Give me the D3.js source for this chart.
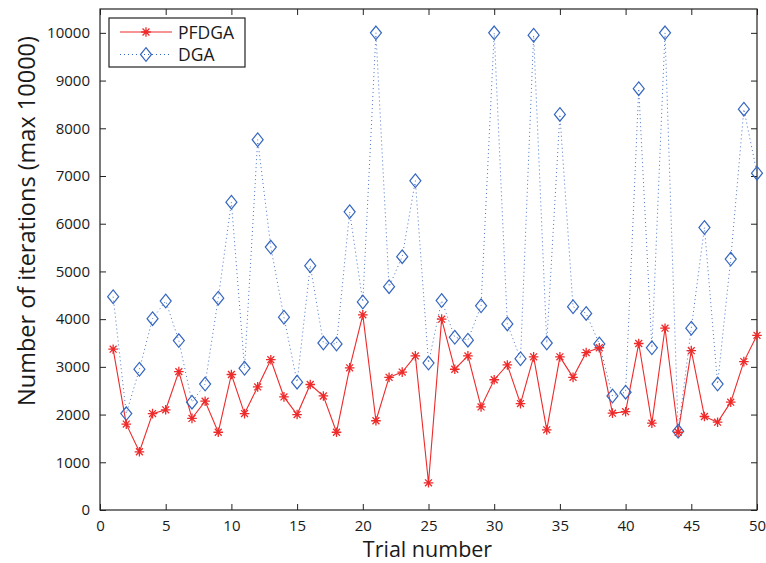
<!DOCTYPE html>
<html>
<head>
<meta charset="utf-8">
<script src="https://cdn.jsdelivr.net/npm/d3@7"></script>
<style>
html,body{margin:0;padding:0;background:#fff;}
svg{display:block;}
text{font-family:"Open Sans",sans-serif;fill:#1a1a1a;}
</style>
</head>
<body>
<svg id="chart" width="766" height="563"></svg>
<script>
const trials = d3.range(1, 51);
const pfdga = [3370,1800,1220,2020,2100,2900,1920,2280,1630,2840,
               2020,2580,3150,2370,2000,2630,2390,1630,2980,4090,
               1870,2780,2890,3230,570,4000,2950,3230,2160,2730,
               3040,2230,3210,1680,3210,2780,3300,3400,2030,2060,
               3490,1820,3810,1630,3340,1960,1840,2260,3110,3660];
const dga = [4470,2020,2950,4010,4380,3550,2260,2640,4440,6450,
             2970,7760,5510,4040,2680,5120,3500,3480,6250,4360,
             10000,4680,5310,6900,3080,4390,3620,3560,4280,10000,
             3900,3170,9950,3500,8290,4260,4120,3480,2390,2470,
             8830,3400,10000,1650,3810,5920,2640,5260,8400,7060];
const xTicks = d3.range(0, 51, 5);
const yTicks = d3.range(0, 10001, 1000);
const seriesNames = ["PFDGA", "DGA"];

const red = "#ee2a2a", blue = "#3566c0";
const svg = d3.select("#chart");
const L = 100, R = 757, T = 9, B = 510;
const x = d3.scaleLinear().domain([0, 50]).range([L, R]);
const y = d3.scaleLinear().domain([0, 10500]).range([B, T]);

// frame
svg.append("rect").attr("x", L).attr("y", T).attr("width", R - L).attr("height", B - T)
  .attr("fill", "none").attr("stroke", "#222").attr("stroke-width", 1.2);

const tl = 6;
const gx = svg.append("g").attr("transform", `translate(0,${B})`)
  .call(d3.axisBottom(x).tickValues(xTicks).tickSize(-tl).tickPadding(10).tickFormat(d3.format("d")));
const gxt = svg.append("g").attr("transform", `translate(0,${T})`)
  .call(d3.axisTop(x).tickValues(xTicks).tickSize(-tl).tickFormat(""));
const gy = svg.append("g").attr("transform", `translate(${L},0)`)
  .call(d3.axisLeft(y).tickValues(yTicks).tickSize(-tl).tickPadding(10).tickFormat(d3.format("d")));
const gyr = svg.append("g").attr("transform", `translate(${R},0)`)
  .call(d3.axisRight(y).tickValues(yTicks).tickSize(-tl).tickFormat(""));
[gx, gxt, gy, gyr].forEach(g => {
  g.select(".domain").remove();
  g.selectAll(".tick line").attr("stroke", "#222");
  g.selectAll("text").attr("font-size", 15).attr("font-family", "Open Sans").attr("fill", "#1a1a1a");
});

// labels
svg.append("text").attr("x", (L + R) / 2 - 1).attr("y", 557).attr("text-anchor", "middle")
  .attr("font-size", 21.5).text("Trial number");
svg.append("text").attr("transform", `translate(35,221) rotate(-90)`)
  .attr("text-anchor", "middle").attr("font-size", 23.5).text("Number of iterations (max 10000)");

// lines
const linePath = d3.line().x((d, i) => x(trials[i])).y(d => y(d));
svg.append("path").datum(dga).attr("d", linePath).attr("fill", "none")
  .attr("stroke", blue).attr("stroke-width", 1).attr("stroke-dasharray", "1,3").attr("opacity", 0.9);
svg.append("path").datum(pfdga).attr("d", linePath).attr("fill", "none")
  .attr("stroke", red).attr("stroke-width", 1.1);

function star(g, cx, cy, r) {
  const d = r * 0.72;
  g.append("path").attr("d",
    `M${cx - r},${cy}L${cx + r},${cy}M${cx},${cy - r}L${cx},${cy + r}` +
    `M${cx - d},${cy - d}L${cx + d},${cy + d}M${cx - d},${cy + d}L${cx + d},${cy - d}`)
    .attr("stroke", red).attr("stroke-width", 1.3).attr("fill", "none");
}
function diamond(g, cx, cy) {
  const w = 5.5, h = 6.8;
  g.append("path").attr("d", `M${cx},${cy - h}L${cx + w},${cy}L${cx},${cy + h}L${cx - w},${cy}Z`)
    .attr("stroke", blue).attr("stroke-width", 1.2).attr("fill", "none");
}
const gd = svg.append("g");
dga.forEach((v, i) => diamond(gd, x(trials[i]), y(v)));
const gs = svg.append("g");
pfdga.forEach((v, i) => star(gs, x(trials[i]), y(v), 4.8));

// legend
const lg = svg.append("g");
lg.append("rect").attr("x", 109).attr("y", 18).attr("width", 136).attr("height", 49)
  .attr("fill", "#fff").attr("stroke", "#222").attr("stroke-width", 1.2);
lg.append("line").attr("x1", 120).attr("x2", 172).attr("y1", 32).attr("y2", 32)
  .attr("stroke", red).attr("stroke-width", 1.1);
star(lg, 146, 32, 4.8);
lg.append("line").attr("x1", 120).attr("x2", 172).attr("y1", 54.5).attr("y2", 54.5)
  .attr("stroke", blue).attr("stroke-width", 1).attr("stroke-dasharray", "1,3");
diamond(lg, 146, 54.5);
lg.append("text").attr("x", 178).attr("y", 38.5).attr("font-size", 17.5).text(seriesNames[0]);
lg.append("text").attr("x", 178).attr("y", 61).attr("font-size", 17.5).text(seriesNames[1]);
</script>
</body>
</html>
